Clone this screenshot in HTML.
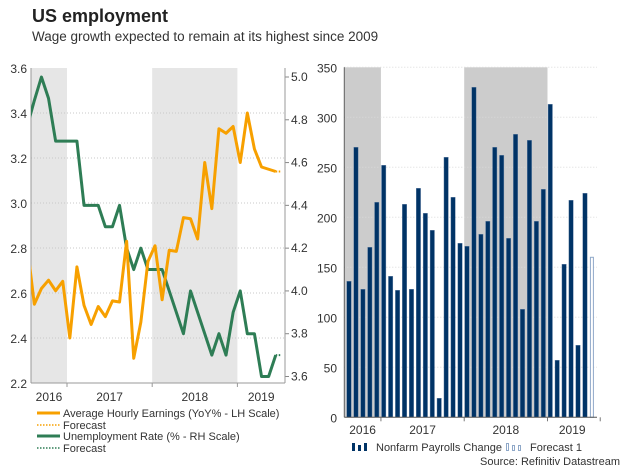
<!DOCTYPE html>
<html><head><meta charset="utf-8"><style>
body{margin:0;background:#fff;}
svg{display:block;font-family:"Liberation Sans",Arial,sans-serif;}
</style></head><body>
<svg id="c" width="626" height="469" viewBox="0 0 626 469" xmlns="http://www.w3.org/2000/svg">
<text x="32" y="22" font-size="18" font-weight="bold" fill="#222">US employment</text>
<text x="32" y="41" font-size="13.5" fill="#333">Wage growth expected to remain at its highest since 2009</text>
<g id="left"></g>
<g id="right"></g>
<g font-size="11" fill="#333">
<line x1="37" y1="413" x2="60" y2="413" stroke="#f7a000" stroke-width="3"/>
<text x="63" y="417">Average Hourly Earnings (YoY% - LH Scale)</text>
<line x1="37" y1="425" x2="60" y2="425" stroke="#f7a000" stroke-width="1.5" stroke-dasharray="1.5,1.5"/>
<text x="63" y="429">Forecast</text>
<line x1="37" y1="436" x2="60" y2="436" stroke="#2e7d55" stroke-width="3"/>
<text x="63" y="440">Unemployment Rate (% - RH Scale)</text>
<line x1="37" y1="448" x2="60" y2="448" stroke="#2e7d55" stroke-width="1.5" stroke-dasharray="1.5,1.5"/>
<text x="63" y="452">Forecast</text>
</g>
<g font-size="11" fill="#333">
<rect x="352" y="443" width="3" height="8" fill="#003366"/><rect x="358" y="445" width="3" height="6" fill="#003366"/><rect x="364" y="443" width="3" height="8" fill="#003366"/>
<text x="376" y="451">Nonfarm Payrolls Change</text>
<rect x="506.5" y="443.5" width="2" height="7" fill="#fff" stroke="#8fa8c8"/><rect x="512.5" y="445.5" width="2" height="5" fill="#fff" stroke="#8fa8c8"/><rect x="518.5" y="445.5" width="2" height="5" fill="#fff" stroke="#8fa8c8"/>
<text x="530" y="451">Forecast 1</text>
<text x="620" y="465" text-anchor="end">Source: Refinitiv Datastream</text>
</g>
</svg>
<script>
const earnings = [2.81,2.55,2.62,2.657,2.61,2.652,2.40,2.716,2.545,2.46,2.54,2.495,2.565,2.56,2.83,2.31,2.47,2.74,2.81,2.57,2.79,2.785,2.935,2.93,2.84,3.18,2.975,3.33,3.31,3.34,3.18,3.40,3.24,3.16,3.15,3.14];
const earningsForecast = [3.14,3.14];
const unemployment = [4.77,4.89,5.0,4.9,4.7,4.7,4.7,4.7,4.4,4.4,4.4,4.3,4.3,4.4,4.2,4.1,4.2,4.1,4.1,4.1,4.0,3.9,3.8,4.0,3.9,3.8,3.7,3.8,3.7,3.9,4.0,3.8,3.8,3.6,3.6,3.7];
const unemploymentForecast = [3.7,3.7];
const leftTicks = ["3.6","3.4","3.2","3.0","2.8","2.6","2.4","2.2"];
const rightTicks = ["5.0","4.8","4.6","4.4","4.2","4.0","3.8","3.6"];
const yearLabels = ["2016","2017","2018","2019"];
const yearBounds = [4.6,16.6,28.6];
const payrolls = [136,270,128,170,215,252,141,127,213,128,229,204,187,19,260,220,174,171,330,183,196,270,262,179,283,108,277,196,228,313,57,153,217,72,224];
const payrollsForecast = [160];
const payrollTicks = ["0","50","100","150","200","250","300","350"];

const NS="http://www.w3.org/2000/svg";
function mk(p,t,a){const e=document.createElementNS(NS,t);for(const k in a)e.setAttribute(k,a[k]);p.appendChild(e);return e;}
const L=document.getElementById('left'), R=document.getElementById('right');
const lx0=31,lx1=285,ly0=68,ly1=383;
const xm=i=>34.33+7.1*i;
const yl=v=>ly0+(3.6-v)/1.4*(ly1-ly0);
const yr=v=>77+(5.0-v)/1.4*(376.5-77);
const dclip=mk(L,'defs',{});const cp=mk(dclip,'clipPath',{id:'lc'});mk(cp,'rect',{x:lx0,y:ly0-5,width:lx1-lx0-4,height:ly1-ly0+10});
let s=mk(L,'rect',{x:lx0,y:ly0,width:xm(yearBounds[0])-lx0,height:ly1-ly0,fill:'#e6e6e6'});

s=mk(L,'rect',{x:xm(yearBounds[1]),y:ly0,width:xm(yearBounds[2])-xm(yearBounds[1]),height:ly1-ly0,fill:'#e6e6e6'});

leftTicks.forEach((t,i)=>{const v=parseFloat(t),y=yl(v);
 if(i>0&&i<leftTicks.length-1){const g=mk(L,'line',{x1:lx0,x2:lx1,y1:y,y2:y,stroke:'#c8c8c8','stroke-dasharray':'1,2'});}
 const e=mk(L,'text',{x:27,y:y+5,'text-anchor':'end','font-size':'12',fill:'#333'});e.textContent=t;
 });
rightTicks.forEach(t=>{const y=yr(parseFloat(t));
 mk(L,'line',{x1:lx1,x2:lx1+4,y1:y,y2:y,stroke:'#888'});
 const e=mk(L,'text',{x:291,y:y+4,'font-size':'12',fill:'#333'});e.textContent=t;
 });
mk(L,'line',{x1:lx0,x2:lx0,y1:ly0,y2:ly1,stroke:'#999'});
mk(L,'line',{x1:lx1,x2:lx1,y1:ly0,y2:ly1,stroke:'#999'});
mk(L,'line',{x1:lx0,x2:lx1,y1:ly1,y2:ly1,stroke:'#999'});
yearBounds.forEach(b=>mk(L,'line',{x1:xm(b),x2:xm(b),y1:ly1,y2:ly1+4,stroke:'#999'}));
const lb=[lx0,...yearBounds.map(xm),lx1];
yearLabels.forEach((t,i)=>{const e=mk(L,'text',{x:(lb[i]+lb[i+1])/2,y:401,'text-anchor':'middle','font-size':'12',fill:'#333'});e.textContent=t;
 });
function line(arr,start,ys,col,w,dash,name){const pts=arr.map((v,i)=>xm(i+start)+','+ys(v)).join(' ');
 const a={points:pts,fill:'none',stroke:col,'stroke-width':w,'stroke-linejoin':'round','clip-path':'url(#lc)'};if(dash)a['stroke-dasharray']=dash;
 const p=mk(L,'polyline',a);}
line(unemployment,-1,yr,'#2e7d55',3,null,'unemployment-line');
line(unemploymentForecast,unemployment.length-2,yr,'#2e7d55',2,'1.5,1.5','unemployment-forecast-line');
line(earnings,-1,yl,'#f7a000',3,null,'earnings-line');
line(earningsForecast,earnings.length-2,yl,'#f7a000',2,'1.5,1.5','earnings-forecast-line');
const rx0=344.3,rx1=597,ry0=417.3;
const xb=i=>349+6.94*i;
const yb=v=>ry0-v;
s=mk(R,'rect',{x:345,y:yb(350),width:xb(yearBounds[0])-345,height:350,fill:'#cccccc'});

s=mk(R,'rect',{x:xb(yearBounds[1]),y:yb(350),width:xb(yearBounds[2])-xb(yearBounds[1]),height:350,fill:'#cccccc'});

payrollTicks.forEach((t,i)=>{const y=yb(parseFloat(t));
 if(i>0){const g=mk(R,'line',{x1:rx0,x2:rx1,y1:y,y2:y,stroke:'#dadada','stroke-dasharray':'1,2'});}
 const e=mk(R,'text',{x:337,y:y+5,'text-anchor':'end','font-size':'12',fill:'#333'});e.textContent=t;
 });
payrolls.forEach((v,i)=>{const b=mk(R,'rect',{x:xb(i)-2.2,y:yb(v),width:4.4,height:v,fill:'#003366',stroke:'#6a86a8','stroke-width':0.4});
 });
payrollsForecast.forEach((v,i)=>{const b=mk(R,'rect',{x:xb(payrolls.length+i)-1.5,y:yb(v),width:3,height:v,fill:'#fff',stroke:'#8fa8c8','stroke-width':1});
 });
mk(R,'line',{x1:rx0,x2:rx0,y1:yb(350),y2:ry0,stroke:'#555'});
mk(R,'line',{x1:rx0,x2:rx1,y1:ry0,y2:ry0,stroke:'#555'});
[...yearBounds,36.2].forEach(b=>mk(R,'line',{x1:xb(b),x2:xb(b),y1:ry0,y2:ry0+4,stroke:'#777'}));
const rb=[rx0,...yearBounds.map(xb),rx1];
yearLabels.forEach((t,i)=>{const e=mk(R,'text',{x:(rb[i]+rb[i+1])/2,y:434,'text-anchor':'middle','font-size':'12',fill:'#333'});e.textContent=t;
 });
</script>
</body></html>
